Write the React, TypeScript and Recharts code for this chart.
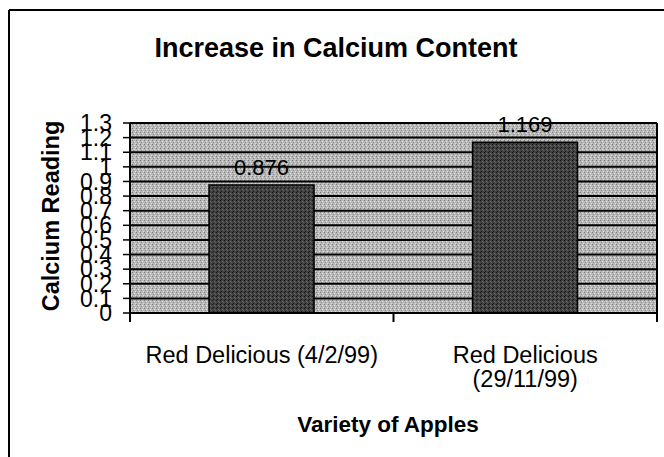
import { BarChart, Bar, XAxis, YAxis, CartesianGrid, LabelList } from 'recharts';

const categories = ['Red Delicious (4/2/99)', 'Red Delicious (29/11/99)'];
const calcium = [0.876, 1.169];
const yTicks = [0, 0.1, 0.2, 0.3, 0.4, 0.5, 0.6, 0.7, 0.8, 0.9, 1, 1.1, 1.2, 1.3];

const data = categories.map((name, i) => ({ name, value: calcium[i] }));

const FONT = '"Liberation Sans", Arial, sans-serif';

// the long label does not fit under its bar and breaks at its last space, as in the original
const splitLabel = (s: string) => {
    if (s.length <= 22) return [s];
    const cut = s.lastIndexOf(' ');
    return [s.slice(0, cut), s.slice(cut + 1)];
};

const CategoryTick = (props: any) => {
    const { x, y, payload, index, visibleTicksCount } = props;
    const half = payload && payload.offset ? payload.offset : 0;
    const isLast = index === visibleTicksCount - 1;
    const lines = splitLabel(String(payload.value));
    return (
        <g>
            {half > 0 && <line x1={x - half} y1={y} x2={x - half} y2={y + 9} stroke="#000" strokeWidth={2} />}
            {half > 0 && isLast && <line x1={x + half} y1={y} x2={x + half} y2={y + 9} stroke="#000" strokeWidth={2} />}
            <text x={x} y={y + 50} textAnchor="middle" fontSize={23.5} fontFamily={FONT} fill="#000">
                {lines.map((l, i) => (
                    <tspan key={i} x={x} dy={i === 0 ? 0 : 24}>
                        {l}
                    </tspan>
                ))}
            </text>
        </g>
    );
};

export default function App() {
    return (
        <div style={{ position: 'absolute', left: 0, top: 0, width: 664, height: 457, background: '#fff', fontFamily: FONT }}>
            <BarChart
                width={664}
                height={457}
                data={data}
                margin={{ top: 123, right: 7, bottom: 84, left: 0 }}
                barCategoryGap="30%"
            >
                <defs>
                    <pattern id="plotTex" width="4" height="4" patternUnits="userSpaceOnUse">
                        <rect width="4" height="4" fill="#b8b8b8" />
                        <rect x="0" y="0" width="1" height="1" fill="#7c7c7c" />
                        <rect x="2" y="1" width="1" height="1" fill="#e2e2e2" />
                        <rect x="1" y="2" width="1" height="1" fill="#8e8e8e" />
                        <rect x="3" y="3" width="1" height="1" fill="#dadada" />
                    </pattern>
                    <pattern id="barTex" width="4" height="4" patternUnits="userSpaceOnUse">
                        <rect width="4" height="4" fill="#404040" />
                        <rect x="0" y="0" width="1" height="1" fill="#161616" />
                        <rect x="2" y="1" width="1" height="1" fill="#6e6e6e" />
                        <rect x="1" y="3" width="1" height="1" fill="#1e1e1e" />
                        <rect x="3" y="2" width="1" height="1" fill="#606060" />
                    </pattern>
                </defs>
                <CartesianGrid
                    fill="url(#plotTex)"
                    fillOpacity={1}
                    stroke="#000"
                    strokeWidth={2}
                    verticalCoordinatesGenerator={({ offset }: any) => [offset.left + offset.width]}
                />
                <XAxis
                    dataKey="name"
                    interval={0}
                    tickLine={false}
                    tickSize={0}
                    tickMargin={0}
                    height={60}
                    axisLine={{ stroke: '#000', strokeWidth: 2 }}
                    tick={<CategoryTick />}
                />
                <YAxis
                    type="number"
                    domain={[0, 1.3]}
                    ticks={yTicks}
                    interval={0}
                    width={130}
                    tickSize={7}
                    tickMargin={11}
                    axisLine={{ stroke: '#000', strokeWidth: 2 }}
                    tickLine={{ stroke: '#000', strokeWidth: 1.5 }}
                    tick={{ fill: '#000', fontSize: 23, fontFamily: FONT }}
                    tickFormatter={(v: number) => String(Number(v.toFixed(1)))}
                />
                <Bar dataKey="value" fill="url(#barTex)" stroke="#000" strokeWidth={1.5} isAnimationActive={false}>
                    <LabelList
                        dataKey="value"
                        position="top"
                        offset={10}
                        fill="#000"
                        fontSize={22}
                        fontFamily={FONT}
                        formatter={(v: any) => Number(v).toFixed(3)}
                    />
                </Bar>
            </BarChart>
            <svg width={664} height={457} style={{ position: 'absolute', left: 0, top: 0, pointerEvents: 'none' }}>
                <line x1={9} y1={10} x2={664} y2={10} stroke="#000" strokeWidth={2} />
                <line x1={9} y1={10} x2={9} y2={457} stroke="#000" strokeWidth={2} />
                <text x={336} y={57} textAnchor="middle" fontSize={27} fontWeight="bold" fontFamily={FONT} fill="#000">
                    Increase in Calcium Content
                </text>
                <text
                    x={51}
                    y={216}
                    textAnchor="middle"
                    dominantBaseline="central"
                    transform="rotate(-90 51 216)"
                    fontSize={23.5}
                    fontWeight="bold"
                    fontFamily={FONT}
                    fill="#000"
                >
                    Calcium Reading
                </text>
                <text x={388} y={432} textAnchor="middle" fontSize={22.5} fontWeight="bold" fontFamily={FONT} fill="#000">
                    Variety of Apples
                </text>
            </svg>
        </div>
    );
}
